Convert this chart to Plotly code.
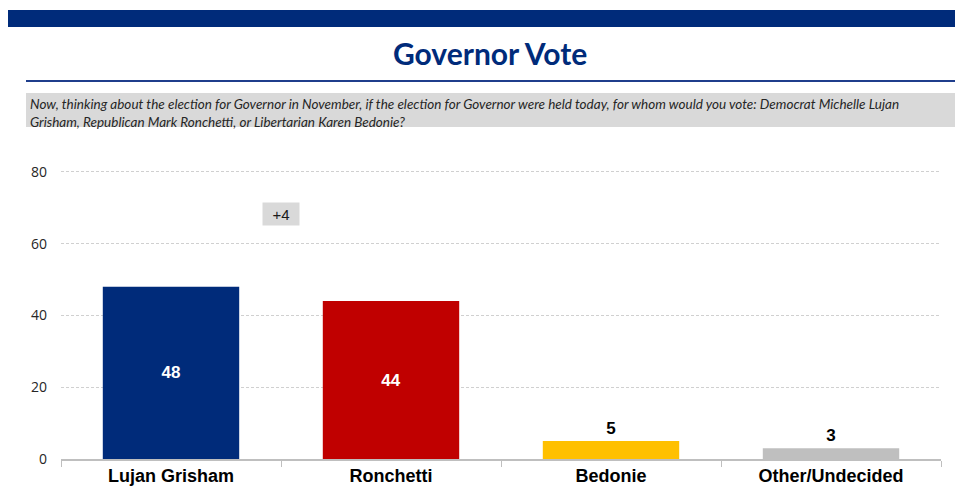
import plotly.graph_objects as go

categories = ["Lujan Grisham", "Ronchetti", "Bedonie", "Other/Undecided"]
values = [48, 44, 5, 3]
bar_colors = ["#002B7A", "#C00000", "#FFC000", "#BFBFBF"]
text_positions = ["inside", "inside", "outside", "outside"]
y_ticks = [0, 20, 40, 60, 80]
margin_label = "+4"
title_text = "Governor Vote"
question_text = ("Now, thinking about the election for Governor in November, if the election for Governor were held today, "
                 "for whom would you vote: Democrat Michelle Lujan<br>Grisham, Republican Mark Ronchetti, or Libertarian Karen Bedonie?")

W, H = 955, 487
L, R, T, B = 61, 941, 170, 459
def px_x(px):
    return (px - L) / (R - L)
def px_y(py):
    return (B - py) / (B - T)

fig = go.Figure(go.Bar(
    x=categories, y=values,
    marker=dict(color=bar_colors, line=dict(width=0)),
    text=[str(v) for v in values],
    textposition=text_positions,
    insidetextanchor="middle",
    insidetextfont=dict(family="Liberation Sans, Arial", size=17, color="white", weight="bold"),
    outsidetextfont=dict(family="Liberation Sans, Arial", size=17, color="black", weight="bold"),
    constraintext="none",
    cliponaxis=False,
    hoverinfo="skip",
))

shapes = [
    dict(type="rect", xref="paper", yref="paper", x0=px_x(8), x1=px_x(960), y0=px_y(27), y1=px_y(10),
         fillcolor="#002B7A", line=dict(width=0), layer="below"),
    dict(type="line", xref="paper", yref="paper", x0=px_x(26), x1=px_x(960), y0=px_y(81), y1=px_y(81),
         line=dict(color="#1F3E8C", width=2)),
    dict(type="rect", xref="paper", yref="paper", x0=px_x(26), x1=px_x(960), y0=px_y(127), y1=px_y(93),
         fillcolor="#D9D9D9", line=dict(width=0), layer="below"),
]

annotations = [
    dict(text=f"<b>{title_text}</b>", xref="paper", yref="paper", x=px_x(490), y=px_y(53),
         xanchor="center", yanchor="middle", showarrow=False,
         font=dict(family="Lato, Open Sans", size=30, color="#002B7A")),
    dict(text=f"<i>{question_text}</i>", xref="paper", yref="paper", x=px_x(28), y=px_y(94),
         xanchor="left", yanchor="top", align="left", showarrow=False,
         font=dict(family="Lato, Open Sans", size=13.5, color="#262626")),
    dict(text=margin_label, xref="x", yref="y", x=0.5, y=68.2, xanchor="center", yanchor="middle",
         showarrow=False, bgcolor="#D9D9D9", width=34, height=20, borderpad=1,
         font=dict(family="Liberation Sans, Arial", size=15, color="#1a1a1a")),
]

fig.update_layout(
    width=W, height=H,
    margin=dict(l=L, r=W - R, t=T, b=H - B, autoexpand=False),
    paper_bgcolor="white", plot_bgcolor="white",
    showlegend=False,
    bargap=0.38,
    shapes=shapes,
    annotations=annotations,
    xaxis=dict(
        automargin=False,
        showline=True, linecolor="#BFBFBF", linewidth=1.5,
        ticks="outside", tickson="boundaries", ticklen=6, tickcolor="#BFBFBF",
        tickfont=dict(family="Liberation Sans, Arial", size=18, color="black", weight="bold"),
        showgrid=False,
    ),
    yaxis=dict(
        automargin=False,
        range=[0, 80.5], tickvals=y_ticks,
        showgrid=True, gridcolor="#D0D0D0", griddash="3px,2px", gridwidth=1,
        zeroline=False, showline=False,
        tickfont=dict(family="Open Sans, Liberation Sans", size=14, color="#262626"),
        ticklabelstandoff=13,
    ),
)

post = ("document.body.style.margin='0';document.body.style.overflow='hidden';"
        "var d=document.querySelector('.plotly-graph-div');"
        "d.style.position='fixed';d.style.top='0px';d.style.left='0px';")
fig.write_html("out.html", config={"displayModeBar": False}, post_script=post)
